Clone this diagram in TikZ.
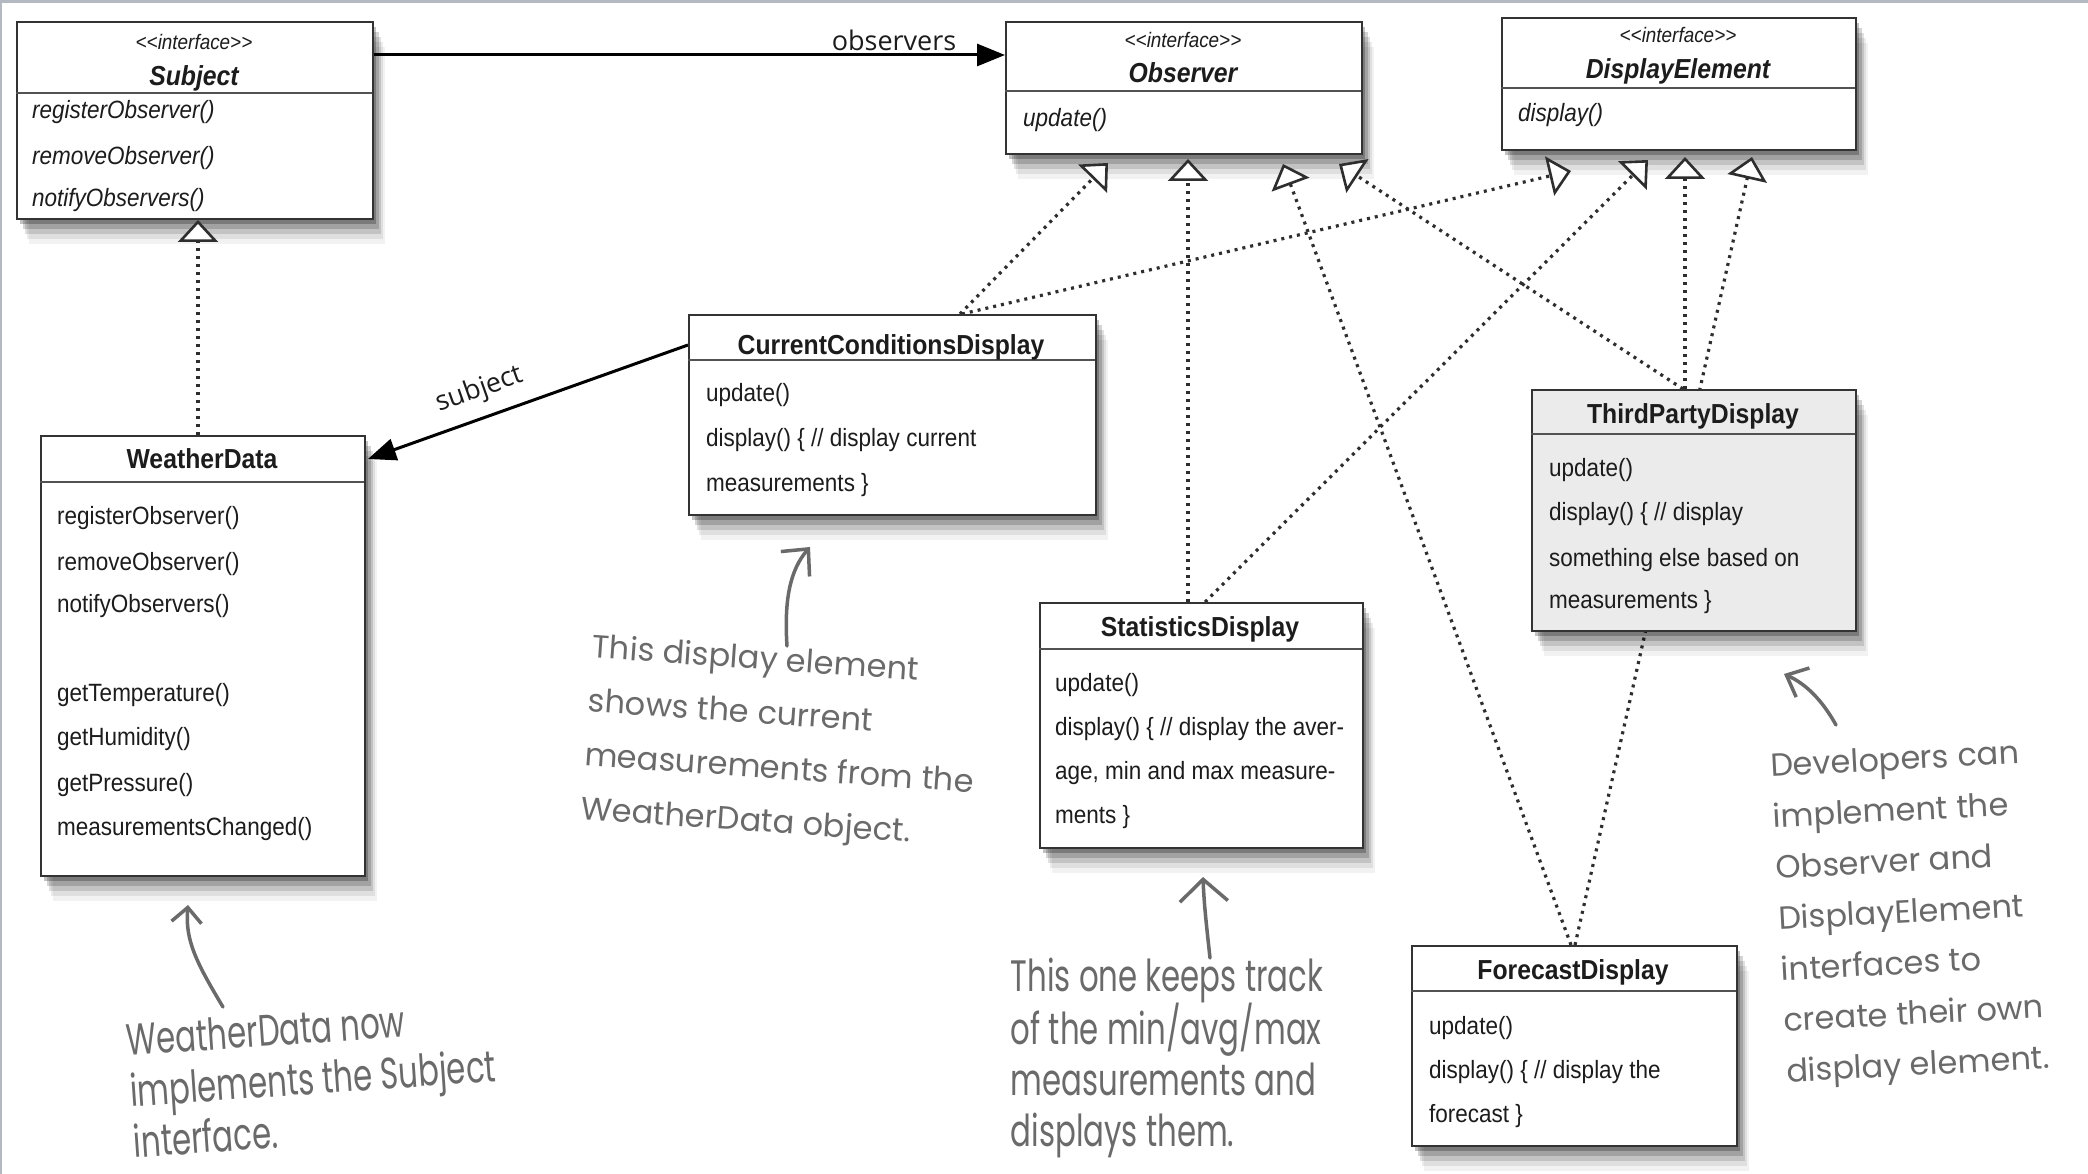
\documentclass[tikz,border=0pt]{standalone}
\usepackage{fontspec}
\setmainfont{Liberation Sans}
\newfontfamily\umlfont[FakeStretch=0.9]{Liberation Sans}
\newfontfamily\tagfont{Open Sans}
\newfontfamily\roundhand{Poppins}
\newfontfamily\narrowhand[FakeStretch=0.7]{Poppins}
\usetikzlibrary{arrows.meta,shadows,calc}
\pgfdeclarelayer{paper}
\pgfdeclarelayer{ifacelayer}
\pgfdeclarelayer{linklayer}
\pgfsetlayers{paper,ifacelayer,linklayer,main}

\definecolor{ink}{HTML}{1C1C1C}
\definecolor{frame}{HTML}{333333}
\definecolor{dotink}{HTML}{2E2E2E}
\definecolor{noteink}{HTML}{6A6A6A}
\definecolor{tpfill}{HTML}{EBEBEB}
\definecolor{edgegray}{HTML}{B4B8C0}

\tikzset{
  boxshade/.style={
    drop shadow={shadow xshift=3pt,shadow yshift=-5pt,opacity=.24,fill=black},
    drop shadow={shadow xshift=6pt,shadow yshift=-10pt,opacity=.17,fill=black},
    drop shadow={shadow xshift=8pt,shadow yshift=-15pt,opacity=.12,fill=black},
    drop shadow={shadow xshift=10pt,shadow yshift=-20pt,opacity=.08,fill=black},
    drop shadow={shadow xshift=12pt,shadow yshift=-25pt,opacity=.05,fill=black}},
  classbox/.style={draw=frame,line width=2pt,fill=white,inner sep=0pt,
    anchor=north west,boxshade},
  sepline/.style={draw=frame!85,line width=2pt},
  mtext/.style={font=\umlfont\fontsize{25}{30}\selectfont,text=ink,
    inner sep=0pt,anchor=base west},
  itext/.style={mtext,font=\umlfont\itshape\fontsize{25}{30}\selectfont},
  ctitle/.style={font=\umlfont\bfseries\fontsize{27.5}{30}\selectfont,
    text=ink,inner sep=0pt,anchor=base},
  ititle/.style={ctitle,font=\umlfont\bfseries\itshape\fontsize{27.5}{30}\selectfont},
  stereo/.style={font=\umlfont\itshape\fontsize{21}{24}\selectfont,
    text=ink,inner sep=0pt,anchor=base},
  realize/.style={draw=dotink,line width=3.2pt,dash pattern=on 3pt off 5pt,
    -{Triangle[length=22pt,width=40pt,fill=white,line width=2.6pt]}},
  assoc/.style={draw=black,line width=3pt,
    -{Triangle[length=28pt,width=22pt]}},
  roletag/.style={font=\tagfont\fontsize{27}{30}\selectfont,text=ink,inner sep=0pt},
  noteline/.style={draw=noteink,line width=3.5pt,line cap=round,line join=round},
  roundnote/.style={font=\roundhand\fontsize{32}{54}\selectfont,text=noteink,
    align=left,inner sep=0pt},
  narrownote/.style={font=\narrowhand\fontsize{44}{51}\selectfont,text=noteink,
    align=left,inner sep=0pt}
}

\begin{document}
\begin{tikzpicture}[x=1pt,y=-1pt]
\useasboundingbox (0,0) rectangle (2088,1174);
\begin{pgfonlayer}{paper}
\fill[white] (0,0) rectangle (2088,1174);
\fill[edgegray] (0,0) rectangle (2088,3);
\fill[edgegray] (0,0) rectangle (2,1174);
\end{pgfonlayer}

% ---------- interfaces ----------
\begin{pgfonlayer}{ifacelayer}
\node[classbox,minimum width=356pt,minimum height=197pt] (sub) at (16,21) {};
\draw[sepline] (16,93) -- (372,93);
\node[stereo] (sub-st) at (194,50) {<<interface>>};
\node[ititle] (sub-t) at (194,86) {Subject};
\node[itext] (sub-m1) at (32,119) {registerObserver()};
\node[itext] (sub-m2) at (32,165) {removeObserver()};
\node[itext] (sub-m3) at (32,207) {notifyObservers()};

\node[classbox,minimum width=356pt,minimum height=132pt] (obs) at (1005,21) {};
\draw[sepline] (1005,91) -- (1361,91);
\node[stereo] (obs-st) at (1183,48) {<<interface>>};
\node[ititle] (obs-t) at (1183,83) {Observer};
\node[itext] (obs-m1) at (1023,127) {update()};

\node[classbox,minimum width=354pt,minimum height=132pt] (del) at (1501,17) {};
\draw[sepline] (1501,88) -- (1855,88);
\node[stereo] (del-st) at (1678,43) {<<interface>>};
\node[ititle] (del-t) at (1678,79) {DisplayElement};
\node[itext] (del-m1) at (1518,122) {display()};
\end{pgfonlayer}

% ---------- concrete classes ----------
\node[classbox,minimum width=324pt,minimum height=440pt] (wd) at (40,435) {};
\draw[sepline] (40,482) -- (364,482);
\node[ctitle] (wd-t) at (202,468) {WeatherData};
\node[mtext] (wd-m1) at (57,524) {registerObserver()};
\node[mtext] (wd-m2) at (57,570) {removeObserver()};
\node[mtext] (wd-m3) at (57,612) {notifyObservers()};
\node[mtext] (wd-m4) at (57,701) {getTemperature()};
\node[mtext] (wd-m5) at (57,745) {getHumidity()};
\node[mtext] (wd-m6) at (57,791) {getPressure()};
\node[mtext] (wd-m7) at (57,835) {measurementsChanged()};

\node[classbox,minimum width=407pt,minimum height=200pt] (ccd) at (688,314) {};
\draw[sepline] (688,360) -- (1095,360);
\node[ctitle] (ccd-t) at (891,354) {CurrentConditionsDisplay};
\node[mtext] (ccd-m1) at (706,401) {update()};
\node[mtext] (ccd-m2) at (706,446) {display() \{ // display current};
\node[mtext] (ccd-m3) at (706,491) {measurements \}};

\node[classbox,minimum width=323pt,minimum height=245pt] (stat) at (1039,602) {};
\draw[sepline] (1039,649) -- (1362,649);
\node[ctitle] (stat-t) at (1200,636) {StatisticsDisplay};
\node[mtext] (stat-m1) at (1055,691) {update()};
\node[mtext] (stat-m2) at (1055,735) {display() \{ // display the aver-};
\node[mtext] (stat-m3) at (1055,779) {age, min and max measure-};
\node[mtext] (stat-m4) at (1055,823) {ments \}};

\node[classbox,fill=tpfill,minimum width=324pt,minimum height=241pt] (tpd) at (1531,389) {};
\draw[sepline] (1531,434) -- (1855,434);
\node[ctitle] (tpd-t) at (1693,423) {ThirdPartyDisplay};
\node[mtext] (tpd-m1) at (1549,476) {update()};
\node[mtext] (tpd-m2) at (1549,520) {display() \{ // display};
\node[mtext] (tpd-m3) at (1549,566) {something else based on};
\node[mtext] (tpd-m4) at (1549,608) {measurements \}};

\node[classbox,minimum width=325pt,minimum height=200pt] (fcd) at (1411,945) {};
\draw[sepline] (1411,991) -- (1736,991);
\node[ctitle] (fcd-t) at (1573,979) {ForecastDisplay};
\node[mtext] (fcd-m1) at (1429,1034) {update()};
\node[mtext] (fcd-m2) at (1429,1078) {display() \{ // display the};
\node[mtext] (fcd-m3) at (1429,1122) {forecast \}};

% ---------- attachment points ----------
\coordinate (subR) at ($(sub.north east)+(0,34)$);
\coordinate (obsL) at ($(obs.north west)+(0,34)$);
\coordinate (ccdL) at ($(ccd.north west)+(0,31)$);
\coordinate (wdR)  at ($(wd.north east)+(2,24)$);
\coordinate (subT) at (198,220);
\coordinate (obsT1) at (1108,163);
\coordinate (obsT2) at (1188,159);
\coordinate (obsT3) at (1283,164);
\coordinate (obsT4) at (1339,164);
\coordinate (delT1) at (1571,171);
\coordinate (delT2) at (1648,160);
\coordinate (delT3) at (1685,157);
\coordinate (delT4) at (1752,157);

% ---------- relations ----------
\begin{pgfonlayer}{linklayer}
\draw[assoc] (subR) -- (obsL);
\node[roletag] (obs-role) at (894,40) {observers};
\draw[assoc] (ccdL) -- (wdR);
\node[roletag,rotate=19.5] (sub-role) at (480,390) {subject};

\draw[realize] ($(wd.north west)+(158,0)$) -- (subT);
\draw[realize] ($(ccd.north west)+(272,0)$) -- (obsT1);
\draw[realize] ($(ccd.north west)+(274,0)$) -- (delT1);
\draw[realize] ($(stat.north west)+(149,0)$) -- (obsT2);
\draw[realize] ($(stat.north west)+(166,0)$) -- (delT2);
\draw[realize] ($(fcd.north west)+(160,0)$) -- (obsT3);
\draw[realize] ($(fcd.north west)+(164,0)$) -- (delT4);
\draw[realize] ($(tpd.north west)+(152,0)$) -- (obsT4);
\draw[realize] ($(tpd.north west)+(154,0)$) -- (delT3);
\end{pgfonlayer}

% ---------- handwritten notes ----------
\node[roundnote,rotate=-4] (note-ccd) at (781,744)
  {This display element\\shows the current\\measurements from the\\WeatherData object.};
\node[narrownote,rotate=4] (note-wd) at (313,1078)
  {WeatherData now\\implements the Subject\\interface.};
\node[narrownote] (note-stat) at (1167,1058)
  {This one keeps track\\of the min/avg/max\\measurements and\\displays them.};
\node[roundnote,rotate=3,font=\roundhand\fontsize{32}{51}\selectfont] (note-dev) at (1910,915)
  {Developers can\\implement the\\Observer and\\DisplayElement\\interfaces to\\create their own\\display element.};

\coordinate (a1s) at (787,646);  \coordinate (a1e) at (810,547);
\coordinate (a2s) at (223,1007); \coordinate (a2e) at (188,905);
\coordinate (a3s) at (1210,958); \coordinate (a3e) at (1203,877);
\coordinate (a4s) at (1836,725); \coordinate (a4e) at (1784,674);
\draw[noteline,-{Straight Barb[length=20pt,width=38pt]}]
  (a1s) .. controls (784,600) and (790,570) .. (a1e);
\draw[noteline,-{Straight Barb[length=15pt,width=30pt]}]
  (a2s) .. controls (196,962) and (185,940) .. (a2e);
\draw[noteline,-{Straight Barb[length=22pt,width=48pt]}]
  (a3s) .. controls (1207,930) and (1204,905) .. (a3e);
\draw[noteline,-{Straight Barb[length=18pt,width=32pt]}]
  (a4s) .. controls (1822,700) and (1806,684) .. (a4e);
\end{tikzpicture}
\end{document}
